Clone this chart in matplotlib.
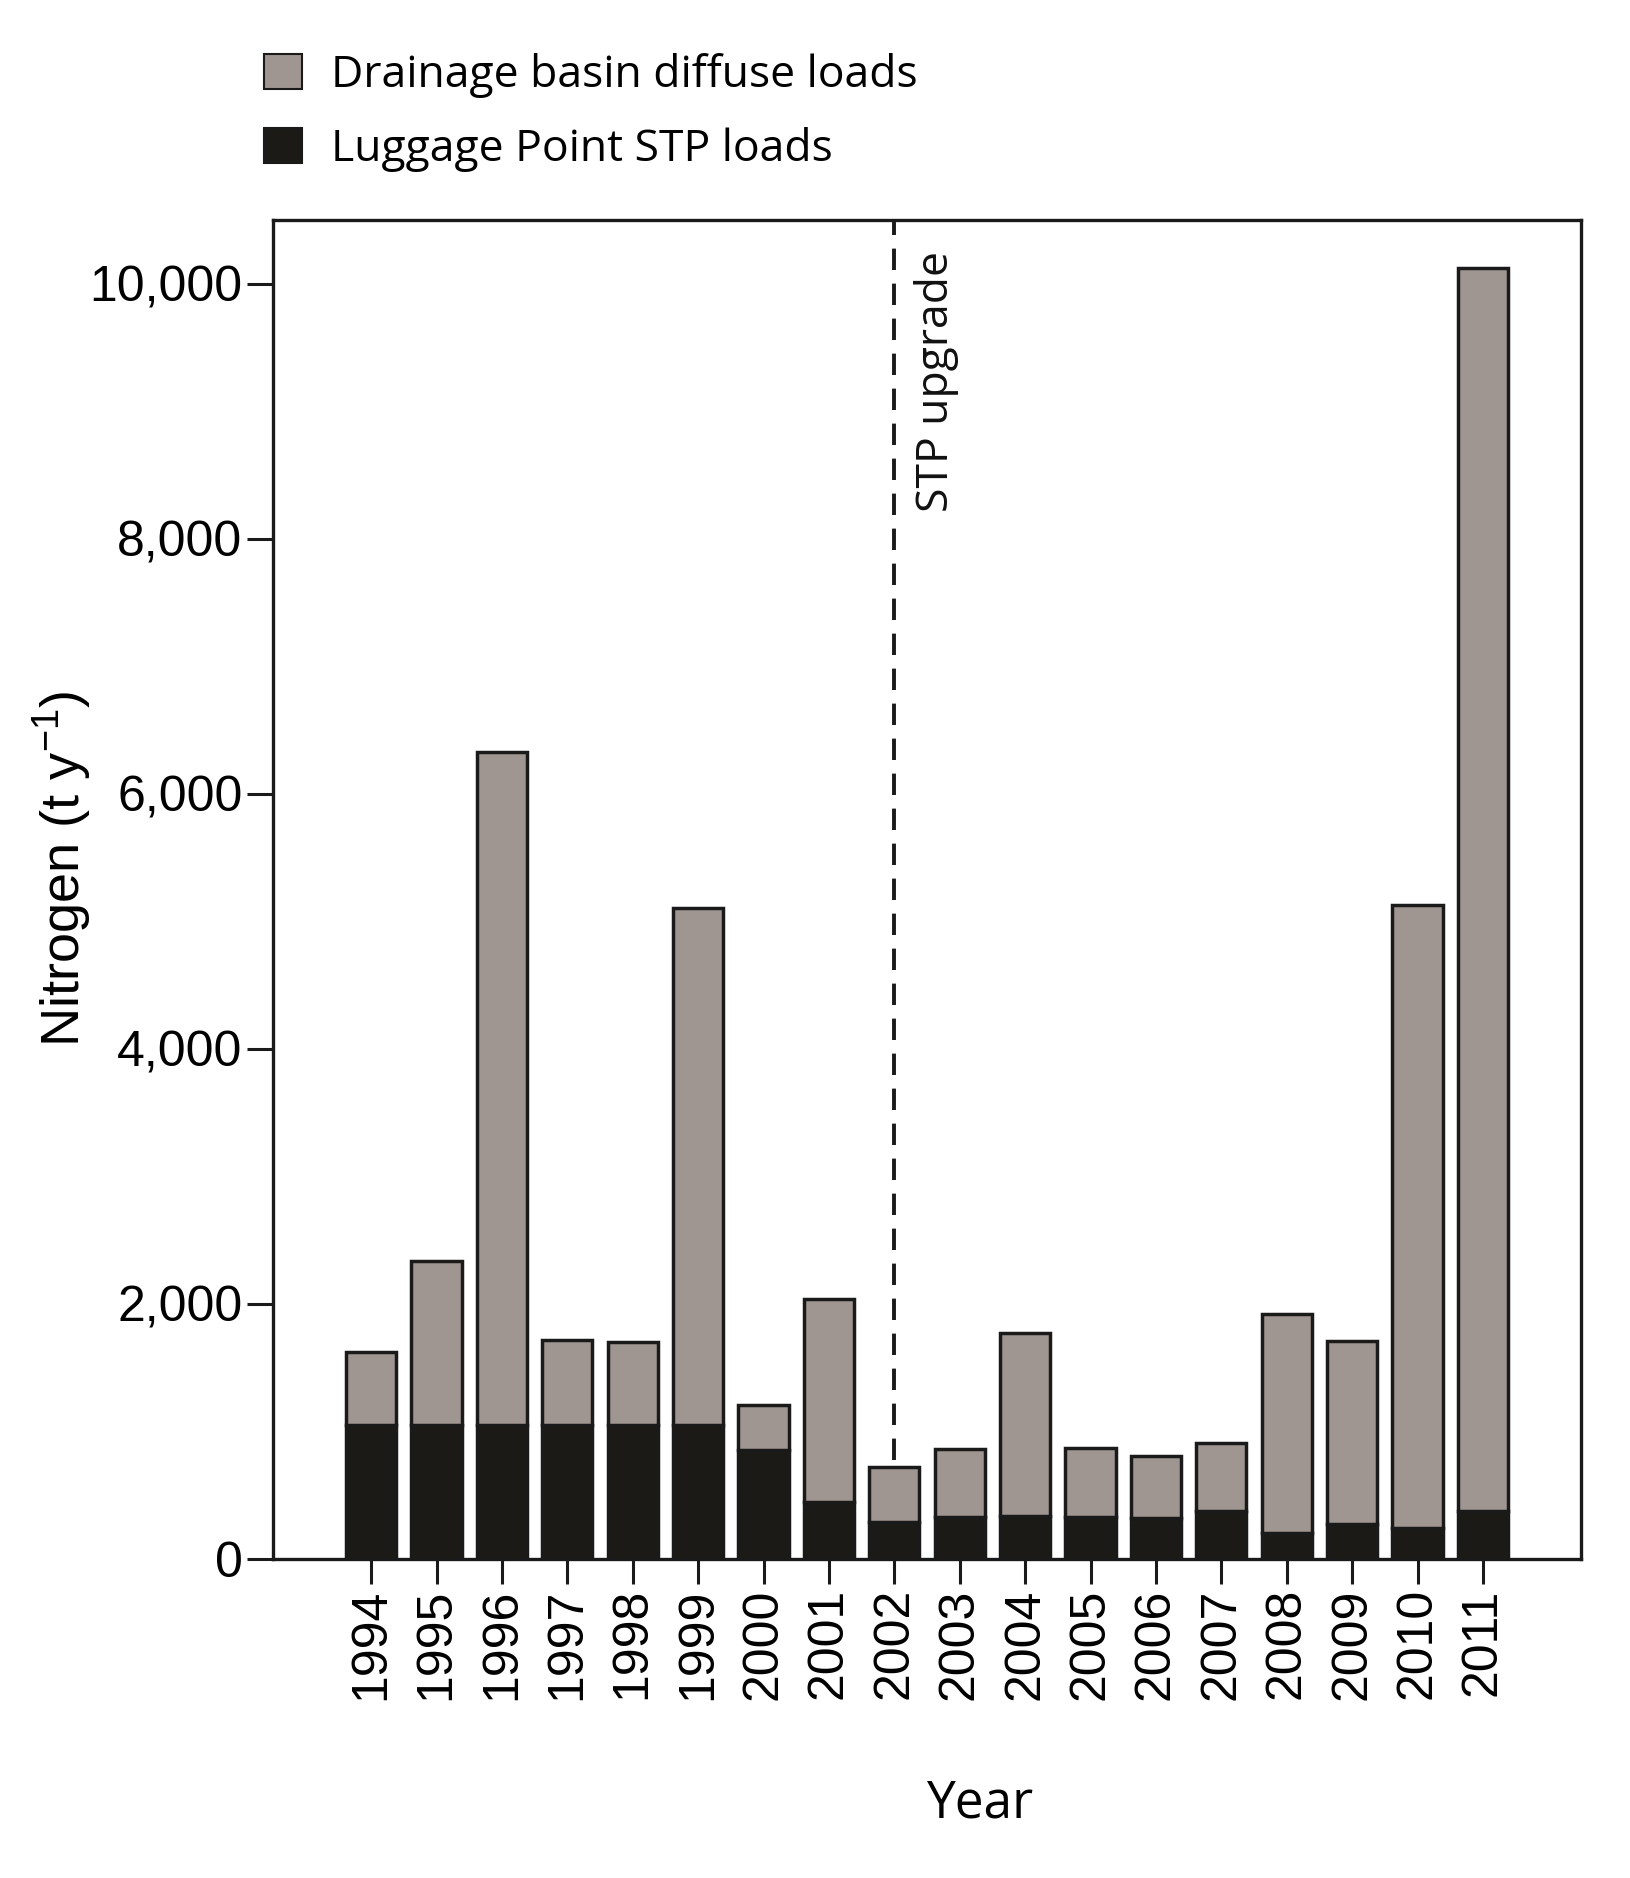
import matplotlib
matplotlib.use("Agg")
import matplotlib.pyplot as plt
import numpy as np

years = [str(y) for y in range(1994, 2012)]
stp_loads = [1050, 1050, 1050, 1050, 1050, 1050, 857, 446, 293, 333, 341, 333, 325, 380, 202, 275, 246, 380]
diffuse_loads = [572, 1285, 5280, 664, 651, 4055, 348, 1595, 425, 529, 1433, 537, 485, 530, 1716, 1433, 4884, 9740]
yticks = [0, 2000, 4000, 6000, 8000, 10000]
ytick_labels = ["0", "2,000", "4,000", "6,000", "8,000", "10,000"]
upgrade_year = "2002"

plt.rcParams['mathtext.fontset'] = 'custom'
plt.rcParams['mathtext.rm'] = 'Liberation Sans'
plt.rcParams['mathtext.it'] = 'Liberation Sans'

grey = "#9f9691"
black = "#1b1a17"
edge = "#1a1a1a"

fig = plt.figure(figsize=(16.3, 18.78), dpi=100)
ax = fig.add_axes([273/1630, 1 - 1559/1878, (1581-273)/1630, (1559-220)/1878])

x = np.arange(len(years))
b1 = ax.bar(x, stp_loads, width=0.77, color=black, edgecolor=edge, linewidth=2.5,
            label="Luggage Point STP loads", zorder=2)
b2 = ax.bar(x, diffuse_loads, width=0.77, bottom=stp_loads, color=grey, edgecolor=edge,
            linewidth=2.5, label="Drainage basin diffuse loads", zorder=2)

ax.set_xlim(-1.5, 18.5)
ax.set_ylim(0, 10500)

xi = years.index(upgrade_year)
top_val = stp_loads[xi] + diffuse_loads[xi]
ax.vlines(xi, top_val + 60, 10500, colors=edge, linestyles=(0, (5.5, 3.5)), linewidth=2.8, zorder=3)
ax.text(xi + 0.64, 9234, "STP upgrade", rotation=90, ha="center", va="center",
        fontsize=32, family="Open Sans", color="#111111")

ax.set_xticks(x)
ax.set_xticklabels(years, rotation=90, fontsize=36, family="Liberation Sans")
ax.set_yticks(yticks)
ax.set_yticklabels(ytick_labels, fontsize=36, family="Liberation Sans")
ax.tick_params(axis="y", direction="out", length=19, width=2.2, pad=3, color=edge)
ax.tick_params(axis="x", direction="out", length=18, width=2.2, pad=3, color=edge)
for s in ax.spines.values():
    s.set_linewidth(2.4)
    s.set_color(edge)

fig.text(63/1630, 1 - 869/1878, "Nitrogen (t y$^{-1}$)", rotation=90, ha="center", va="center",
         fontsize=39, family="Liberation Sans")
fig.text(981/1630, 1 - 1804/1878, "Year", ha="center", va="center", fontsize=37, family="Open Sans")

leg = fig.legend(handles=[b2, b1], labels=["Drainage basin diffuse loads", "Luggage Point STP loads"],
                 loc="upper left", bbox_to_anchor=(264/1630, 1 - 53/1878), frameon=False,
                 prop={"family": "Open Sans", "size": 32}, handlelength=0.85, handleheight=0.85,
                 handletextpad=0.65, labelspacing=0.65, borderpad=0, borderaxespad=0)
for h in leg.legend_handles:
    h.set_linewidth(1.5)

fig.savefig("out.png", dpi=100, facecolor="white")
